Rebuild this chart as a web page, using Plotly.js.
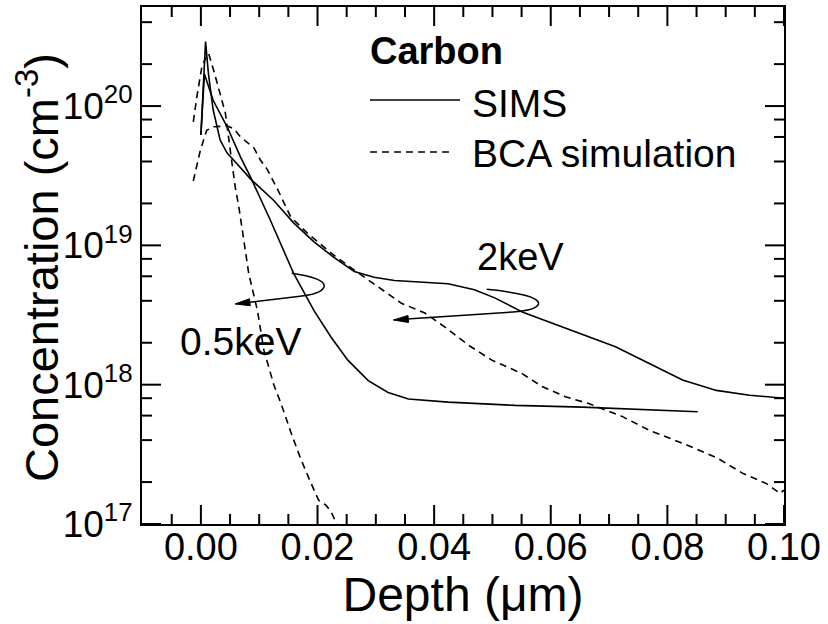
<!DOCTYPE html>
<html>
<head>
<meta charset="utf-8">
<script src="https://cdn.plot.ly/plotly-3.0.1.min.js"></script>
<style>html,body{margin:0;padding:0;background:#fff;}#chart{width:828px;height:624px;}</style>
</head>
<body>
<div id="chart"></div>
<script>
// ---- data ----
const depthSims2 = [0.0000, 0.0003, 0.0008, 0.0013, 0.0021, 0.0033, 0.0045, 0.0056, 0.0085, 0.0125, 0.0159, 0.0194, 0.0228, 0.0263, 0.0297, 0.0332, 0.0383, 0.0424, 0.0469, 0.0504, 0.0551, 0.0625, 0.0711, 0.0769, 0.0826, 0.0884, 0.0941, 0.1000];
const concSims2  = [6.2e19, 1.1e20, 2.9e20, 1.7e20, 9.4e19, 5.7e19, 4.6e19, 4.1e19, 3.0e19, 2.1e19, 1.45e19, 1.06e19, 8.2e18, 6.5e18, 5.9e18, 5.6e18, 5.4e18, 5.3e18, 4.8e18, 4.2e18, 3.33e18, 2.54e18, 1.87e18, 1.42e18, 1.08e18, 9.1e17, 8.4e17, 8.0e17];

const depthSims05 = [0.0000, 0.0003, 0.0006, 0.0021, 0.0045, 0.0068, 0.0085, 0.0119, 0.0159, 0.0194, 0.0223, 0.0252, 0.0287, 0.0321, 0.0356, 0.0424, 0.0539, 0.0654, 0.0769, 0.0852];
const concSims05  = [6.2e19, 1.0e20, 1.7e20, 1.1e20, 7.1e19, 4.3e19, 3.1e19, 1.52e19, 6.3e18, 3.4e18, 2.2e18, 1.5e18, 1.07e18, 8.8e17, 7.9e17, 7.5e17, 7.1e17, 6.9e17, 6.6e17, 6.4e17];

const depthBca2 = [-0.0013, -0.0001, 0.0010, 0.0022, 0.0045, 0.0056, 0.0068, 0.0091, 0.0102, 0.0114, 0.0132, 0.0154, 0.0183, 0.0194, 0.0228, 0.0263, 0.0303, 0.0344, 0.0384, 0.0418, 0.0459, 0.0499, 0.0551, 0.0585, 0.0625, 0.0666, 0.0723, 0.0769, 0.0826, 0.0884, 0.0930, 0.0970, 0.0993, 0.1000];
const concBca2  = [2.9e19, 4.8e19, 6.7e19, 7.1e19, 7.2e19, 6.9e19, 6.0e19, 5.0e19, 4.1e19, 3.5e19, 2.5e19, 1.6e19, 1.22e19, 1.12e19, 8.5e18, 6.65e18, 5.05e18, 3.84e18, 3.27e18, 2.6e18, 1.92e18, 1.5e18, 1.2e18, 9.7e17, 8.2e17, 7.3e17, 5.9e17, 4.7e17, 3.8e17, 3.0e17, 2.3e17, 1.95e17, 1.66e17, 1.75e17];

const depthBca05 = [-0.0013, -0.0007, 0.0002, 0.0013, 0.0022, 0.0033, 0.0042, 0.0051, 0.0059, 0.0065, 0.0073, 0.0082, 0.0097, 0.0108, 0.0125, 0.0137, 0.0154, 0.0171, 0.0188, 0.0202, 0.0214, 0.0223, 0.0233];
const concBca05  = [7.7e19, 1.16e20, 1.95e20, 2.4e20, 1.8e20, 1.23e20, 8.9e19, 4.6e19, 2.6e19, 1.9e19, 1.15e19, 6.3e18, 3.4e18, 1.77e18, 1.0e18, 7.4e17, 4.6e17, 2.95e17, 2.0e17, 1.48e17, 1.37e17, 1.23e17, 1.0e17];

const xTickVals = [0.00, 0.02, 0.04, 0.06, 0.08, 0.10];
const xTickText = ['0.00', '0.02', '0.04', '0.06', '0.08', '0.10'];
const xMinorVals = [-0.005, 0.005, 0.010, 0.015, 0.025, 0.030, 0.035, 0.045, 0.050, 0.055, 0.065, 0.070, 0.075, 0.085, 0.090, 0.095];
const yTickVals = [1e17, 1e18, 1e19, 1e20];
const yTickText = ['10<sup>17</sup>', '10<sup>18</sup>', '10<sup>19</sup>', '10<sup>20</sup>'];
const yMinorVals = [2e17,4e17,6e17,8e17, 2e18,4e18,6e18,8e18, 2e19,4e19,6e19,8e19, 2e20,4e20];

const legendTitle = 'Carbon';
const seriesNames = ['SIMS', 'BCA simulation'];
const energyLabels = ['0.5keV', '2keV'];
const xTitle = 'Depth (\u03bcm)';
const yTitle = 'Concentration (cm<sup>-3</sup>)';

// ---- layout helpers (pixel -> paper) ----
const L = 142, R = 44, T = 7, B = 100, W = 828, H = 624;
const PW = W - L - R, PH = H - T - B;
const px = x => (x - L) / PW;
const py = y => (H - B - y) / PH;
const P = (x, y) => px(x).toFixed(5) + ',' + py(y).toFixed(5);

const FONT = 'Liberation Sans, Arial, Helvetica, sans-serif';
const XR = [-0.0101, 0.1], YR = [17, 20.711];

const traces = [
  {x: depthSims2, y: concSims2, mode: 'lines', line: {color: '#000', width: 1.6}, name: seriesNames[0], showlegend: false},
  {x: depthSims05, y: concSims05, mode: 'lines', line: {color: '#000', width: 1.6}, name: seriesNames[0], showlegend: false},
  {x: depthBca2, y: concBca2, mode: 'lines', line: {color: '#000', width: 1.6, dash: '7px,5px'}, name: seriesNames[1], showlegend: false},
  {x: depthBca05, y: concBca05, mode: 'lines', line: {color: '#000', width: 1.6, dash: '7px,5px'}, name: seriesNames[1], showlegend: false}
];

// ---- inside tick marks on all four sides, drawn through the axes' own scales ----
const MAJ = 19, MIN = 10;
function tickTrace(len) {
  // len in px -> axis units
  const dyDec = len / PH * (YR[1] - YR[0]);
  const dx = len / PW * (XR[1] - XR[0]);
  return {dyDec, dx};
}
function xTicksTrace(vals, len) {
  const {dyDec} = tickTrace(len);
  const xs = [], ys = [];
  vals.forEach(v => {
    xs.push(v, v, null, v, v, null);
    ys.push(Math.pow(10, YR[0]), Math.pow(10, YR[0] + dyDec), null, Math.pow(10, YR[1]), Math.pow(10, YR[1] - dyDec), null);
  });
  return {x: xs, y: ys, mode: 'lines', line: {color: '#000', width: 2}, showlegend: false, hoverinfo: 'skip', connectgaps: false, name: 'ticks'};
}
function yTicksTrace(vals, len) {
  const {dx} = tickTrace(len);
  const xs = [], ys = [];
  vals.forEach(v => {
    xs.push(XR[0], XR[0] + dx, null, XR[1], XR[1] - dx, null);
    ys.push(v, v, null, v, v, null);
  });
  return {x: xs, y: ys, mode: 'lines', line: {color: '#000', width: 2}, showlegend: false, hoverinfo: 'skip', connectgaps: false, name: 'ticks'};
}
traces.push(xTicksTrace(xTickVals, MAJ), xTicksTrace(xMinorVals, MIN), yTicksTrace(yTickVals, MAJ), yTicksTrace(yMinorVals, MIN));

function arrowHead(tip, from, len, hw) {
  const dx = tip[0] - from[0], dy = tip[1] - from[1];
  const d = Math.hypot(dx, dy), ux = dx / d, uy = dy / d;
  const bx = tip[0] - len * ux, by = tip[1] - len * uy;
  const nx = -uy, ny = ux;
  return 'M' + P(tip[0], tip[1]) + ' L' + P(bx + hw * nx, by + hw * ny) + ' L' + P(bx - hw * nx, by - hw * ny) + ' Z';
}

const shapes = [
  {type: 'line', xref: 'paper', yref: 'paper', x0: px(370), x1: px(460), y0: py(100), y1: py(100), line: {color: '#000', width: 1.5}},
  {type: 'line', xref: 'paper', yref: 'paper', x0: px(370), x1: px(453), y0: py(152), y1: py(152), line: {color: '#000', width: 1.5, dash: '7px,5px'}},
  {type: 'path', xref: 'paper', yref: 'paper', line: {color: '#000', width: 1.5},
   path: 'M' + P(291.7, 273.3) + ' C' + P(312, 276) + ' ' + P(326, 281) + ' ' + P(324, 287) +
         ' C' + P(322, 293) + ' ' + P(308, 295.5) + ' ' + P(298, 296.5) + ' L' + P(248, 302.5)},
  {type: 'path', xref: 'paper', yref: 'paper', line: {color: '#000', width: 1}, fillcolor: '#000',
   path: arrowHead([235, 304], [298, 296.5], 15, 3.5)},
  {type: 'path', xref: 'paper', yref: 'paper', line: {color: '#000', width: 1.5},
   path: 'M' + P(486.7, 289.3) + ' C' + P(515, 292) + ' ' + P(540, 297) + ' ' + P(538.5, 304) +
         ' C' + P(537, 309) + ' ' + P(525, 311) + ' ' + P(513, 312) + ' L' + P(407, 319)},
  {type: 'path', xref: 'paper', yref: 'paper', line: {color: '#000', width: 1}, fillcolor: '#000',
   path: arrowHead([393.3, 320], [513, 312], 15, 3.5)}
];

const annotations = [
  {xref: 'paper', yref: 'paper', x: px(368), y: py(51), xanchor: 'left', yanchor: 'middle', showarrow: false,
   text: '<b>' + legendTitle + '</b>', font: {family: FONT, size: 38, color: '#000'}},
  {xref: 'paper', yref: 'paper', x: px(470), y: py(103), xanchor: 'left', yanchor: 'middle', showarrow: false,
   text: seriesNames[0], font: {family: FONT, size: 39, color: '#000'}},
  {xref: 'paper', yref: 'paper', x: px(470), y: py(153), xanchor: 'left', yanchor: 'middle', showarrow: false,
   text: seriesNames[1], font: {family: FONT, size: 39, color: '#000'}},
  {xref: 'paper', yref: 'paper', x: px(240.5), y: py(341), xanchor: 'center', yanchor: 'middle', showarrow: false,
   text: energyLabels[0], font: {family: FONT, size: 39, color: '#000'}},
  {xref: 'paper', yref: 'paper', x: px(520), y: py(257), xanchor: 'center', yanchor: 'middle', showarrow: false,
   text: energyLabels[1], font: {family: FONT, size: 38, color: '#000'}},
  {xref: 'paper', yref: 'paper', x: px(38), y: py(268), xanchor: 'center', yanchor: 'middle', showarrow: false,
   textangle: -90, text: yTitle, font: {family: FONT, size: 47, color: '#000'}}
];

const layout = {
  width: W, height: H,
  margin: {l: L, r: R, t: T, b: B},
  showlegend: false,
  font: {family: FONT, color: '#000'},
  xaxis: {
    range: XR, tickmode: 'array', tickvals: xTickVals, ticktext: xTickText,
    showline: true, linecolor: '#000', linewidth: 2, mirror: true,
    ticks: '', showgrid: false, zeroline: false,
    ticklabelstandoff: -12,
    tickfont: {family: FONT, size: 38, color: '#000'},
    title: {text: xTitle, font: {family: FONT, size: 48, color: '#000'}, standoff: 0}
  },
  yaxis: {
    type: 'log', range: YR, tickmode: 'array', tickvals: yTickVals, ticktext: yTickText,
    showline: true, linecolor: '#000', linewidth: 2, mirror: true,
    ticks: '', showgrid: false, zeroline: false,
    tickfont: {family: FONT, size: 37, color: '#000'}
  },
  shapes: shapes,
  annotations: annotations
};

Plotly.newPlot('chart', traces, layout, {displayModeBar: false});
</script>
</body>
</html>
